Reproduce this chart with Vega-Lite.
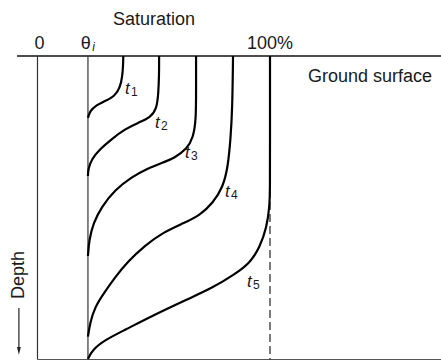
{
  "$schema": "https://vega.github.io/schema/vega-lite/v6.json",
  "width": 441,
  "height": 360,
  "autosize": "none",
  "padding": 0,
  "background": "white",
  "config": {"view": {"stroke": null}, "font": "Liberation Sans"},
  "datasets": {
    "profiles": [
      {"t": "t1", "sat": 36.9, "depth": 0}, {"t": "t1", "sat": 36.8, "depth": 3.3}, {"t": "t1", "sat": 36.5, "depth": 6.6},
      {"t": "t1", "sat": 35.5, "depth": 10.5}, {"t": "t1", "sat": 33.3, "depth": 13.2}, {"t": "t1", "sat": 29.0, "depth": 14.9},
      {"t": "t1", "sat": 24.7, "depth": 16.5}, {"t": "t1", "sat": 22.6, "depth": 18.2}, {"t": "t1", "sat": 21.7, "depth": 20.4},

      {"t": "t2", "sat": 52.3, "depth": 0}, {"t": "t2", "sat": 52.3, "depth": 6.3}, {"t": "t2", "sat": 52.0, "depth": 12.1},
      {"t": "t2", "sat": 51.3, "depth": 17.5}, {"t": "t2", "sat": 48.4, "depth": 20.4}, {"t": "t2", "sat": 43.4, "depth": 22.0},
      {"t": "t2", "sat": 37.6, "depth": 24.1}, {"t": "t2", "sat": 31.9, "depth": 27.4}, {"t": "t2", "sat": 26.9, "depth": 30.7},
      {"t": "t2", "sat": 23.3, "depth": 34.0}, {"t": "t2", "sat": 21.8, "depth": 37.3}, {"t": "t2", "sat": 21.7, "depth": 39.6},

      {"t": "t3", "sat": 68.2, "depth": 0}, {"t": "t3", "sat": 68.2, "depth": 11.2}, {"t": "t3", "sat": 68.2, "depth": 20.8},
      {"t": "t3", "sat": 67.0, "depth": 27.0}, {"t": "t3", "sat": 64.2, "depth": 30.7}, {"t": "t3", "sat": 59.1, "depth": 33.6},
      {"t": "t3", "sat": 53.4, "depth": 35.3}, {"t": "t3", "sat": 47.7, "depth": 37.0}, {"t": "t3", "sat": 40.5, "depth": 39.9},
      {"t": "t3", "sat": 33.3, "depth": 44.2}, {"t": "t3", "sat": 27.6, "depth": 49.7}, {"t": "t3", "sat": 24.0, "depth": 55.1},
      {"t": "t3", "sat": 22.2, "depth": 60.7}, {"t": "t3", "sat": 21.7, "depth": 66.0},

      {"t": "t4", "sat": 84.1, "depth": 0}, {"t": "t4", "sat": 83.8, "depth": 17.8}, {"t": "t4", "sat": 83.0, "depth": 27.7},
      {"t": "t4", "sat": 81.9, "depth": 36.6}, {"t": "t4", "sat": 79.8, "depth": 43.2}, {"t": "t4", "sat": 75.5, "depth": 48.5},
      {"t": "t4", "sat": 69.9, "depth": 52.5}, {"t": "t4", "sat": 63.4, "depth": 55.0}, {"t": "t4", "sat": 53.5, "depth": 58.4},
      {"t": "t4", "sat": 46.2, "depth": 62.6}, {"t": "t4", "sat": 38.9, "depth": 67.8}, {"t": "t4", "sat": 33.6, "depth": 72.8},
      {"t": "t4", "sat": 28.8, "depth": 78.0}, {"t": "t4", "sat": 24.7, "depth": 82.8}, {"t": "t4", "sat": 22.6, "depth": 88.1},
      {"t": "t4", "sat": 21.7, "depth": 92.6},

      {"t": "t5", "sat": 100, "depth": 0}, {"t": "t5", "sat": 100, "depth": 27.7}, {"t": "t5", "sat": 100, "depth": 44.2},
      {"t": "t5", "sat": 99.8, "depth": 49.8}, {"t": "t5", "sat": 98.6, "depth": 56.4}, {"t": "t5", "sat": 95.7, "depth": 63.0},
      {"t": "t5", "sat": 91.4, "depth": 68.3}, {"t": "t5", "sat": 84.9, "depth": 72.0}, {"t": "t5", "sat": 75.1, "depth": 76.6},
      {"t": "t5", "sat": 64.7, "depth": 80.2}, {"t": "t5", "sat": 49.2, "depth": 85.8}, {"t": "t5", "sat": 37.6, "depth": 90.4},
      {"t": "t5", "sat": 29.0, "depth": 93.7}, {"t": "t5", "sat": 23.6, "depth": 97.0}, {"t": "t5", "sat": 21.7, "depth": 100}
    ],
    "frame": [
      {"part": "ground", "sat": -8.8, "sat2": 173.6, "depth": 0, "depth2": 0, "w": 1.6, "c": "#111111"},
      {"part": "zero", "sat": 0, "sat2": 0, "depth": 0, "depth2": 100.2, "w": 1.2, "c": "#333333"},
      {"part": "initial", "sat": 21.7, "sat2": 21.7, "depth": 0, "depth2": 100.2, "w": 1.2, "c": "#333333"},
      {"part": "bottom", "sat": 0, "sat2": 173.6, "depth": 100.2, "depth2": 100.2, "w": 1.2, "c": "#555555"},
      {"part": "arrow", "sat": -8.0, "sat2": -8.0, "depth": 83.2, "depth2": 96.5, "w": 1.2, "c": "#222222"}
    ],
    "saturated": [
      {"sat": 100, "sat2": 100, "depth": 44.2, "depth2": 100.2}
    ],
    "heading": [
      {"text": "Saturation", "sat": 50.1, "depth": -10.2},
      {"text": "0", "sat": 0.9, "depth": -2.3},
      {"text": "θ", "sat": 20.8, "depth": -2.3},
      {"text": "100%", "sat": 100, "depth": -2.3}
    ],
    "timeLabels": [
      {"t": "t", "n": "1", "sat": 37.6, "depth": 12.5},
      {"t": "t", "n": "2", "sat": 50.5, "depth": 23.8},
      {"t": "t", "n": "3", "sat": 63.4, "depth": 33.7},
      {"t": "t", "n": "4", "sat": 80.6, "depth": 46.5},
      {"t": "t", "n": "5", "sat": 90.1, "depth": 76.2}
    ]
  },
  "layer": [
    {
      "data": {"name": "frame"},
      "mark": {"type": "rule"},
      "encoding": {
        "x": {"field": "sat", "type": "quantitative", "scale": {"domain": [-16.13, 173.55], "nice": false, "zero": false}, "axis": null},
        "x2": {"field": "sat2"},
        "y": {"field": "depth", "type": "quantitative", "scale": {"domain": [-18.48, 100.33], "nice": false, "zero": false, "reverse": true}, "axis": null},
        "y2": {"field": "depth2"},
        "strokeWidth": {"field": "w", "type": "quantitative", "scale": null},
        "color": {"field": "c", "type": "nominal", "scale": null}
      }
    },
    {
      "data": {"name": "saturated"},
      "mark": {"type": "rule", "color": "#222222", "strokeWidth": 1.2, "strokeDash": [8, 4]},
      "encoding": {
        "x": {"field": "sat", "type": "quantitative"},
        "x2": {"field": "sat2"},
        "y": {"field": "depth", "type": "quantitative"},
        "y2": {"field": "depth2"}
      }
    },
    {
      "data": {"name": "profiles"},
      "mark": {"type": "line", "color": "#000000", "strokeWidth": 2.2, "interpolate": "basis"},
      "encoding": {
        "x": {"field": "sat", "type": "quantitative"},
        "y": {"field": "depth", "type": "quantitative"},
        "detail": {"field": "t"},
        "order": {"field": "depth", "type": "quantitative"}
      }
    },
    {
      "data": {"values": [{"sat": -8.0, "depth": 97.3}]},
      "mark": {"type": "point", "shape": "M-0.5,-1L0.5,-1L0,1Z", "size": 60, "filled": true, "color": "#222222", "opacity": 1},
      "encoding": {
        "x": {"field": "sat", "type": "quantitative"},
        "y": {"field": "depth", "type": "quantitative"}
      }
    },
    {
      "data": {"name": "heading"},
      "mark": {"type": "text", "fontSize": 18, "align": "center", "baseline": "alphabetic", "color": "#1a1a1a"},
      "encoding": {
        "x": {"field": "sat", "type": "quantitative"},
        "y": {"field": "depth", "type": "quantitative"},
        "text": {"field": "text"}
      }
    },
    {
      "data": {"values": [{"text": "Ground surface", "sat": 116.3, "depth": 8.6}]},
      "mark": {"type": "text", "fontSize": 18, "align": "left", "baseline": "alphabetic", "color": "#1a1a1a"},
      "encoding": {
        "x": {"field": "sat", "type": "quantitative"},
        "y": {"field": "depth", "type": "quantitative"},
        "text": {"field": "text"}
      }
    },
    {
      "data": {"values": [{"text": "i", "sat": 23.6, "depth": -1.6}]},
      "mark": {"type": "text", "fontSize": 12, "fontStyle": "italic", "align": "left", "baseline": "alphabetic", "color": "#1a1a1a"},
      "encoding": {
        "x": {"field": "sat", "type": "quantitative"},
        "y": {"field": "depth", "type": "quantitative"},
        "text": {"field": "text"}
      }
    },
    {
      "data": {"values": [{"text": "Depth", "sat": -7.8, "depth": 72.3}]},
      "mark": {"type": "text", "fontSize": 18, "angle": 270, "align": "center", "baseline": "middle", "color": "#1a1a1a"},
      "encoding": {
        "x": {"field": "sat", "type": "quantitative"},
        "y": {"field": "depth", "type": "quantitative"},
        "text": {"field": "text"}
      }
    },
    {
      "data": {"name": "timeLabels"},
      "mark": {"type": "text", "fontSize": 17, "fontStyle": "italic", "align": "left", "baseline": "alphabetic", "color": "#1a1a1a"},
      "encoding": {
        "x": {"field": "sat", "type": "quantitative"},
        "y": {"field": "depth", "type": "quantitative"},
        "text": {"field": "t"}
      }
    },
    {
      "data": {"name": "timeLabels"},
      "mark": {"type": "text", "fontSize": 12, "align": "left", "baseline": "alphabetic", "dx": 6, "dy": 2, "color": "#1a1a1a"},
      "encoding": {
        "x": {"field": "sat", "type": "quantitative"},
        "y": {"field": "depth", "type": "quantitative"},
        "text": {"field": "n"}
      }
    }
  ]
}
